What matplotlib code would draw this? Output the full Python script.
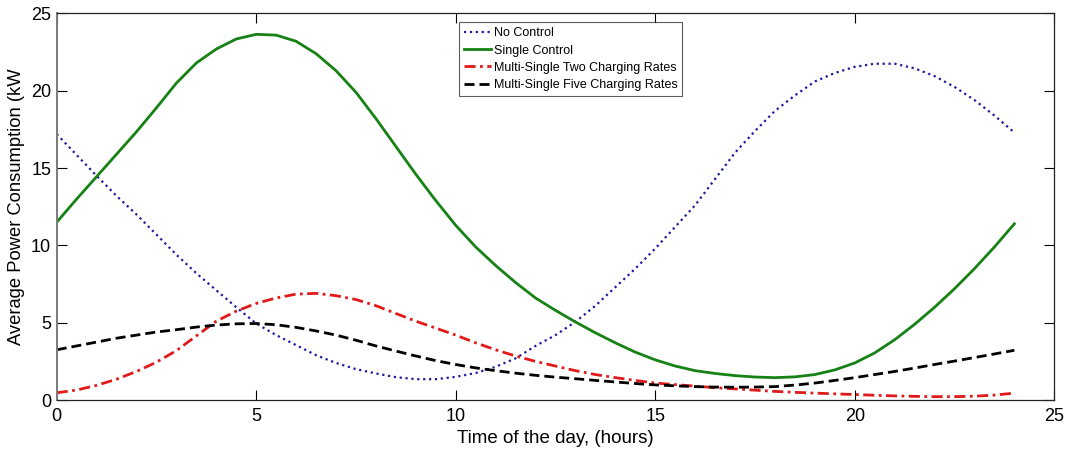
#!/usr/bin/env python3
# -*- coding: utf-8 -*-
"""
Average power consumption over the day for four charging strategies
"""

import matplotlib
matplotlib.use('Agg')
import matplotlib.pyplot as plt

plt.rcParams['font.family'] = ['Liberation Sans', 'DejaVu Sans']

# hour of the day, every half hour
hours = [h / 2 for h in range(49)]

# values (kW), one per half hour
no_control = [17.2, 15.85, 14.5, 13.2, 12.0, 10.7, 9.4, 8.2, 7.1, 6.0,
              4.95, 4.2, 3.55, 2.9, 2.4, 2.0, 1.72, 1.48, 1.35, 1.35,
              1.5, 1.75, 2.15, 2.7, 3.5, 4.2, 5.06, 6.1, 7.3, 8.5,
              9.8, 11.2, 12.6, 14.3, 16.0, 17.4, 18.7, 19.7, 20.6, 21.15,
              21.55, 21.75, 21.75, 21.45, 20.95, 20.25, 19.4, 18.4, 17.3]
single_control = [11.5, 13.0, 14.45, 15.9, 17.35, 18.9, 20.5, 21.8, 22.7, 23.35,
                  23.65, 23.6, 23.2, 22.4, 21.3, 19.9, 18.2, 16.4, 14.6, 12.9,
                  11.3, 9.9, 8.7, 7.6, 6.6, 5.8, 5.05, 4.35, 3.7, 3.1,
                  2.6, 2.2, 1.9, 1.72, 1.58, 1.49, 1.45, 1.5, 1.65, 1.95,
                  2.4, 3.05, 3.9, 4.9, 6.0, 7.2, 8.5, 9.9, 11.4]
multi_two = [0.47, 0.65, 0.95, 1.35, 1.85, 2.45, 3.2, 4.15, 5.1, 5.75,
             6.25, 6.6, 6.85, 6.9, 6.75, 6.5, 6.1, 5.6, 5.1, 4.65,
             4.2, 3.7, 3.25, 2.85, 2.5, 2.2, 1.9, 1.65, 1.45, 1.27,
             1.1, 1.0, 0.9, 0.8, 0.72, 0.64, 0.56, 0.5, 0.45, 0.4,
             0.36, 0.31, 0.27, 0.24, 0.22, 0.22, 0.25, 0.32, 0.45]
multi_five = [3.25, 3.5, 3.75, 4.0, 4.2, 4.4, 4.55, 4.72, 4.85, 4.93,
              4.95, 4.87, 4.7, 4.47, 4.2, 3.87, 3.5, 3.17, 2.85, 2.55,
              2.3, 2.08, 1.9, 1.74, 1.6, 1.48, 1.38, 1.27, 1.17, 1.07,
              0.98, 0.92, 0.87, 0.84, 0.83, 0.84, 0.87, 0.97, 1.1, 1.27,
              1.45, 1.65, 1.85, 2.07, 2.3, 2.52, 2.75, 2.98, 3.22]

labels = ['No Control', 'Single Control',
          'Multi-Single Two Charging Rates', 'Multi-Single Five Charging Rates']

fig = plt.figure(figsize=(10.66, 4.49), dpi=100)
ax = fig.add_axes([0.0532, 0.109, 0.9358, 0.861])

ax.plot(hours, no_control, color='#1c1c9c', linestyle=':', linewidth=1.6, label=labels[0])
ax.plot(hours, single_control, color='#168216', linestyle='-', linewidth=2.0, label=labels[1])
ax.plot(hours, multi_two, color='#e01a1a', linewidth=2.0, dashes=(4, 1.6, 1, 1.6), label=labels[2])
ax.plot(hours, multi_five, color='black', linewidth=2.0, dashes=(3.6, 1.8), label=labels[3])

ax.set_xlim(0, 25)
ax.set_ylim(0, 25)
ax.set_xticks([0, 5, 10, 15, 20, 25])
ax.set_yticks([0, 5, 10, 15, 20, 25])
ax.tick_params(direction='in', top=True, right=True, length=7, width=0.8,
               labelsize=13, pad=4)
ax.tick_params(axis='x', pad=6)

for side in ['top', 'right', 'bottom']:
    ax.spines[side].set_color('#222222')
    ax.spines[side].set_linewidth(0.9)
ax.spines['left'].set_color('#7a7a7a')
ax.spines['left'].set_linewidth(1.4)

ax.set_xlabel('Time of the day, (hours)', fontsize=13.5, labelpad=3)
ax.set_ylabel('Average Power Consumption (kW', fontsize=13.2, labelpad=4)

leg = ax.legend(loc='upper left', bbox_to_anchor=(0.403, 0.977), fontsize=9,
                frameon=True, fancybox=False, edgecolor='#333333',
                handlelength=2.2, handletextpad=0.2, labelspacing=0.42,
                borderpad=0.4, borderaxespad=0)
leg.get_frame().set_linewidth(0.8)

plt.savefig('out.png', dpi=100)
plt.close()
